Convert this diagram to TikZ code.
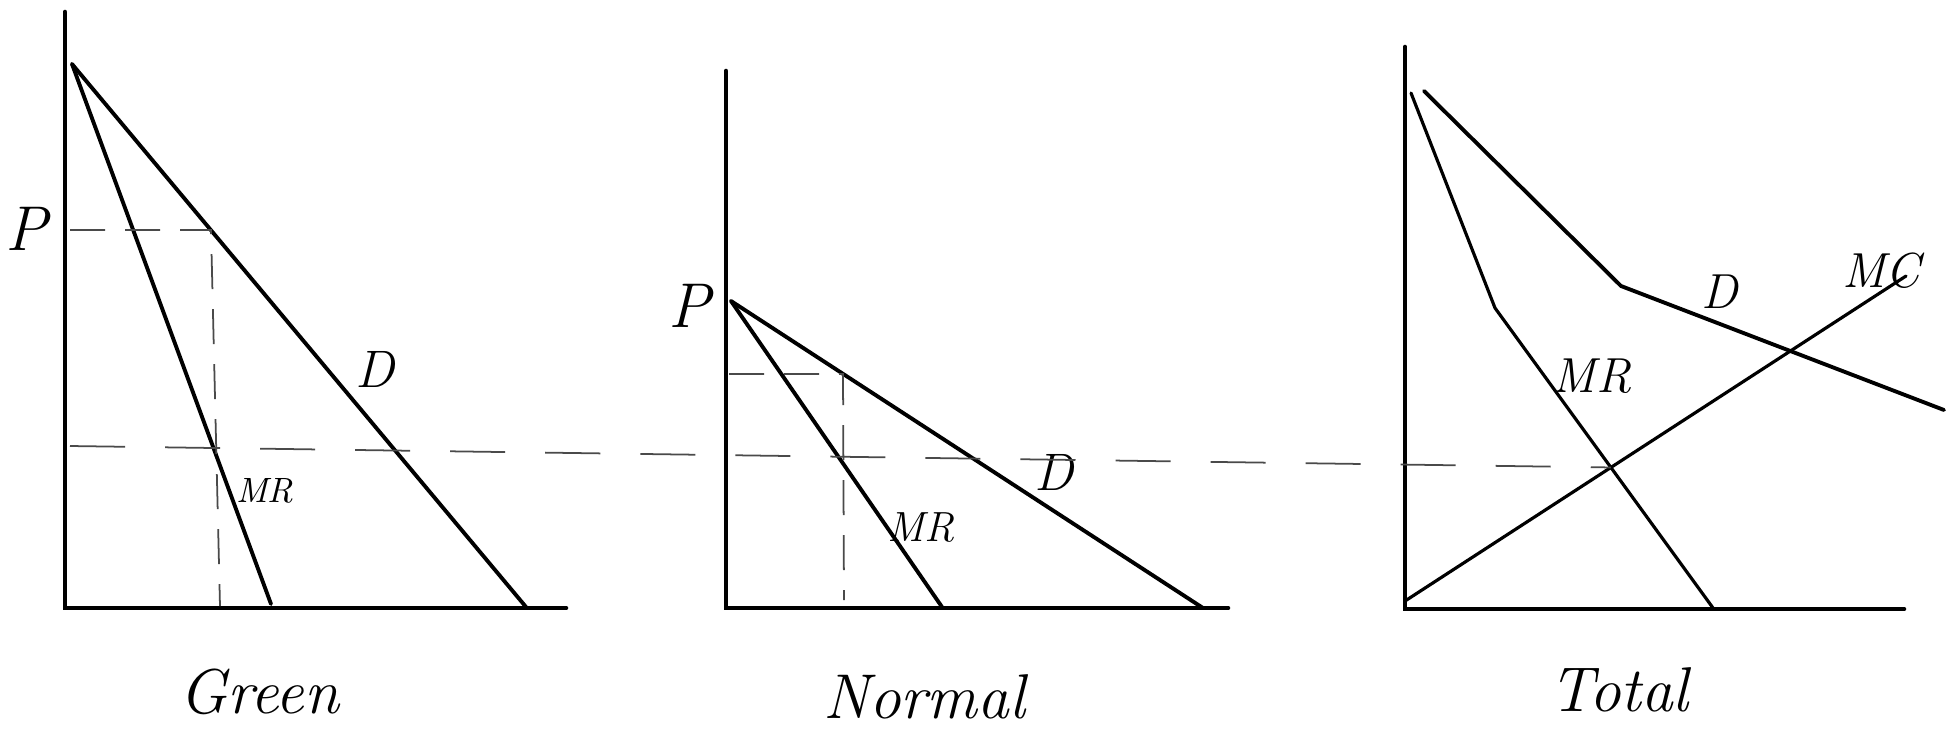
\documentclass[tikz,border=0pt]{standalone}
\usepackage{tikz}
\usetikzlibrary{intersections}
\definecolor{cguide}{HTML}{4A4A4A}
\tikzset{
  axis/.style={line width=1.3pt,line cap=round},
  curve/.style={line width=1.1pt,line cap=round,line join=round},
  thin curve/.style={line width=0.9pt,line cap=round,line join=round},
  guide/.style={line width=0.5pt,cguide,dash pattern=on 0.55cm off 0.4cm},
  short guide/.style={line width=0.5pt,cguide,dash pattern=on 0.35cm off 0.2cm},
  lbl/.style={font=\itshape\fontsize{#1}{#1}\selectfont,inner sep=0pt},
  ttl/.style={font=\itshape\fontsize{18}{20}\selectfont,inner sep=0pt}
}

\begin{document}
\begin{tikzpicture}[x=0.01cm,y=-0.01cm]
  \useasboundingbox (0,0) rectangle (1958,733);
  % Green
  \coordinate (gO) at (65,608);
  \coordinate (gY) at (65,12);
  \coordinate (gX) at (566,608);
  \coordinate (gA) at (72,64);
  \coordinate (gD) at (526,607);
  \coordinate (gM) at (271,604);
  \coordinate (gP) at (70,230);
  \coordinate (gE) at (211,230);
  \coordinate (gQ) at (220,606);
  \coordinate (gL) at (70,446);
  \draw[axis] (gY) -- (gO) -- (gX);
  \draw[curve] (gA) -- (gD);
  \draw[curve] (gA) -- (gM);
  \draw[short guide] (gP) -- (gE) -- (gQ);
  \node[lbl=18] (gp) at (26,229) {P};
  \node[lbl=15] (gd) at (375,369) {D};
  \node[lbl=10] (gmr) at (265,491) {MR};
  \node[ttl] (gt) at (259,692) {Green};
  % Normal
  \coordinate (nO) at (726,608);
  \coordinate (nY) at (726,71);
  \coordinate (nX) at (1228,608);
  \coordinate (nA) at (731,301);
  \coordinate (nD) at (1203,608);
  \coordinate (nM) at (942,607);
  \coordinate (nP) at (729,374);
  \coordinate (nE) at (843,374);
  \coordinate (nQ) at (844,600);
  \draw[axis] (nY) -- (nO) -- (nX);
  \draw[curve] (nA) -- (nD);
  \draw[curve] (nA) -- (nM);
  \draw[short guide] (nP) -- (nE) -- (nQ);
  \node[lbl=18] (np) at (689,306) {P};
  \node[lbl=15] (nd) at (1054,472) {D};
  \node[lbl=12] (nmr) at (921,528) {MR};
  \node[ttl] (nt) at (924,697) {Normal};
  % Total
  \coordinate (tO) at (1405,609);
  \coordinate (tY) at (1405,47);
  \coordinate (tX) at (1904,609);
  \coordinate (tA) at (1424,91);
  \coordinate (tK) at (1621,286);
  \coordinate (tD) at (1944,410);
  \coordinate (tB) at (1411,93);
  \coordinate (tJ) at (1495,308);
  \coordinate (tM) at (1713,608);
  \coordinate (tS) at (1405,601);
  \coordinate (tC) at (1906,276);
  \draw[axis] (tY) -- (tO) -- (tX);
  \draw[curve] (tA) -- (tK) -- (tD);
  \draw[thin curve,name path=tmr] (tB) -- (tJ) -- (tM);
  \draw[thin curve,name path=tmc] (tS) -- (tC);
  \path[name intersections={of=tmr and tmc,by=tE}];
  \draw[guide] (gL) -- (tE);
  \node[lbl=14] (td) at (1720,292) {D};
  \node[lbl=14] (tmc) at (1881,271) {MC};
  \node[lbl=14] (tmrl) at (1592,376) {MR};
  \node[ttl] (tt) at (1619,690) {Total};
\end{tikzpicture}
\end{document}
